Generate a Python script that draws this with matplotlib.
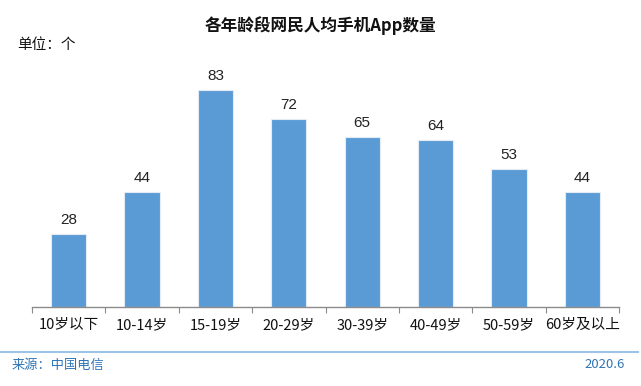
import numpy as np
import matplotlib.pyplot as plt

plt.rcParams['font.family'] = ['Noto Sans CJK SC', 'DejaVu Sans']

categories = ['10岁以下', '10-14岁', '15-19岁', '20-29岁', '30-39岁', '40-49岁', '50-59岁', '60岁及以上']
values = [28, 44, 83, 72, 65, 64, 53, 44]

W, H = 641, 386
fig = plt.figure(figsize=(W / 100, H / 100), dpi=100)

# axes: x from 32 to 619 px, baseline at y=307, top at y=60
ax = fig.add_axes([32 / W, (H - 307) / H, (619 - 32) / W, (307 - 60) / H])
x = np.arange(len(categories))
ax.bar(x, values, width=0.48, color='#5B9BD5', edgecolor='#E3ECF5', linewidth=0.8)
for xi, v in zip(x, values):
    ax.text(xi, v + 5.4, str(v), ha='center', va='center', fontsize=11,
            family=['Liberation Sans'], color='#222222')

ax.set_xlim(-0.5, len(categories) - 0.5)
ax.set_ylim(0, 94.6)
for s in ['top', 'right', 'left']:
    ax.spines[s].set_visible(False)
ax.spines['bottom'].set_color('#8C8C8C')
ax.spines['bottom'].set_linewidth(1.0)
ax.set_yticks([])
# boundary ticks between categories, labels centred under bars
ax.set_xticks(np.arange(-0.5, len(categories), 1.0))
ax.set_xticklabels([])
ax.tick_params(axis='x', which='major', length=4, color='#8C8C8C', direction='out')
ax.set_xticks(x, minor=True)
ax.set_xticklabels(categories, minor=True, fontsize=10.5, color='#111111')
ax.tick_params(axis='x', which='minor', length=0, pad=8)

fig.text(320 / W, 1 - 26 / H, '各年龄段网民人均手机App数量', ha='center', va='center',
         fontsize=12, fontweight='bold', color='#111111')
fig.text(17 / W, 1 - 45 / H, '单位：个', ha='left', va='center', fontsize=10.5, color='#111111')

fig.add_artist(plt.Line2D([0, 638 / W], [1 - 352 / H, 1 - 352 / H], transform=fig.transFigure,
                          color='#9DC3E6', linewidth=1.5))
fig.text(12 / W, 1 - 365 / H, '来源：中国电信', ha='left', va='center', fontsize=9.5, color='#2E75B6')
fig.text(625 / W, 1 - 365 / H, '2020.6', ha='right', va='center', fontsize=9.5, color='#2E75B6')

fig.savefig('out.png', dpi=100)
